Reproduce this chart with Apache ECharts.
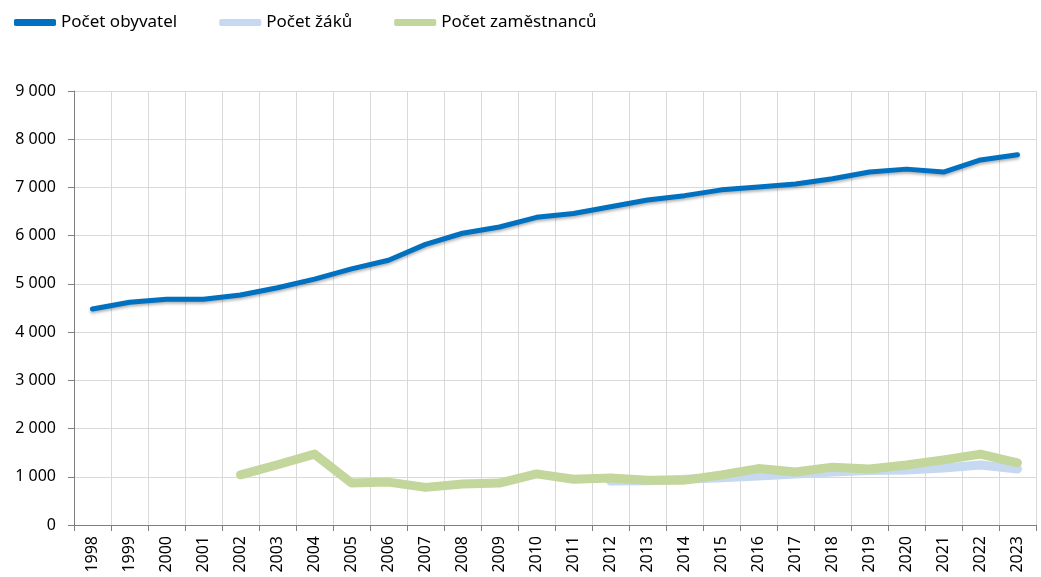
<!DOCTYPE html>
<html><head><meta charset="utf-8">
<script src="https://cdn.jsdelivr.net/npm/echarts@6/dist/echarts.min.js"></script>
<style>html,body{margin:0;padding:0;background:#fff}#c{width:1041px;height:577px}</style>
</head><body><div id="c"></div>
<script>
const years = ['1998','1999','2000','2001','2002','2003','2004','2005','2006','2007','2008','2009','2010','2011','2012','2013','2014','2015','2016','2017','2018','2019','2020','2021','2022','2023'];
const obyvatel = [4480,4620,4680,4680,4770,4920,5100,5310,5490,5820,6050,6180,6380,6460,6600,6740,6830,6950,7010,7070,7180,7320,7380,7320,7570,7680];
const zaku = [null,null,null,null,null,null,null,null,null,null,null,null,null,null,910,920,950,980,1015,1060,1100,1130,1140,1180,1245,1160];
const zamestnancu = [null,null,null,null,1040,1250,1470,870,890,780,850,870,1060,950,975,930,930,1040,1170,1100,1200,1160,1245,1350,1470,1290];
const seriesNames = ['Počet obyvatel','Počet žáků','Počet zaměstnanců'];
const colors = ['#0070C0','#C6D9F1','#C3D69B'];

const chart = echarts.init(document.getElementById('c'));
const fnt = 'Noto Sans, sans-serif';
chart.setOption({
  animation:false,
  textStyle:{fontFamily:fnt},
  legend:{
    left:9, top:9, itemGap:42, itemWidth:42, itemHeight:7,
    textStyle:{fontSize:17,color:'#000',fontFamily:fnt},
    data: seriesNames.map((n,i)=>({name:n,icon:'roundRect',itemStyle:{color:colors[i]}}))
  },
  grid:{left:74,right:5,top:91,bottom:52,containLabel:false},
  xAxis:{
    type:'category', data:years, boundaryGap:true,
    axisLine:{lineStyle:{color:'#7f7f7f'}},
    axisTick:{show:true,interval:0,length:6,lineStyle:{color:'#7f7f7f'}},
    axisLabel:{interval:0,rotate:90,fontSize:16,color:'#000',fontFamily:fnt,margin:11},
    splitLine:{show:true,interval:0,lineStyle:{color:'#d9d9d9',width:1}}
  },
  yAxis:{
    type:'value', min:0, max:9000, interval:1000,
    axisLine:{show:true,lineStyle:{color:'#7f7f7f'}},
    axisTick:{show:true,length:6,lineStyle:{color:'#7f7f7f'}},
    axisLabel:{fontSize:16,color:'#000',fontFamily:fnt,margin:18,
      formatter:v=>String(v).replace(/\B(?=(\d{3})+(?!\d))/g,' ')},
    splitLine:{lineStyle:{color:'#d9d9d9',width:1}}
  },
  series:[
    {name:seriesNames[0],type:'line',data:obyvatel,symbol:'none',z:5,
      lineStyle:{color:colors[0],width:5,cap:'round',join:'round',shadowColor:'rgba(0,0,0,0.3)',shadowBlur:3,shadowOffsetY:2},itemStyle:{color:colors[0]}},
    {name:seriesNames[1],type:'line',data:zaku,symbol:'none',z:3,
      lineStyle:{color:colors[1],width:9,cap:'round',join:'round'},itemStyle:{color:colors[1]}},
    {name:seriesNames[2],type:'line',data:zamestnancu,symbol:'none',z:4,
      lineStyle:{color:colors[2],width:9,cap:'round',join:'round'},itemStyle:{color:colors[2]}}
  ]
});
</script></body></html>
